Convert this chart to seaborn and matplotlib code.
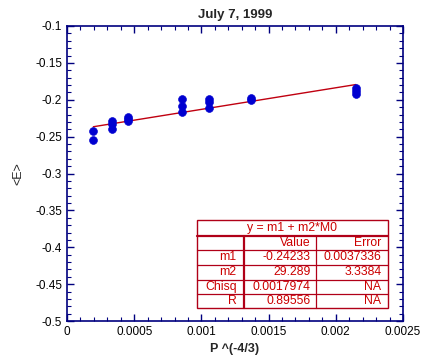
import matplotlib
matplotlib.use("Agg")
import matplotlib.pyplot as plt
import seaborn as sns
import numpy as np
import pandas as pd
from matplotlib.ticker import MultipleLocator, FuncFormatter

# Data
x_vals = [0.000196, 0.000196,
          0.000337, 0.000337, 0.000337,
          0.000456, 0.000456, 0.000456,
          0.000853, 0.000853, 0.000853,
          0.001059, 0.001059, 0.001059,
          0.001369, 0.001369,
          0.00215, 0.00215, 0.00215]
y_vals = [-0.2418, -0.2548,
          -0.2283, -0.2328, -0.2395,
          -0.2238, -0.2265, -0.2292,
          -0.1987, -0.2090, -0.2166,
          -0.1987, -0.2036, -0.2117,
          -0.1970, -0.2000,
          -0.1838, -0.1883, -0.1923]

fit_m1 = -0.24233
fit_m2 = 29.289
table_header = "y = m1 + m2*M0"
table_cols = ["", "Value", "Error"]
table_rows = [["m1", "-0.24233", "0.0037336"],
              ["m2", "29.289", "3.3384"],
              ["Chisq", "0.0017974", "NA"],
              ["R", "0.89556", "NA"]]
x_ticks = [0, 0.0005, 0.001, 0.0015, 0.002, 0.0025]
y_ticks = [-0.5, -0.45, -0.4, -0.35, -0.3, -0.25, -0.2, -0.15, -0.1]

sns.set_theme(style="white")
plt.rcParams['font.family'] = ['Liberation Sans', 'DejaVu Sans']

df = pd.DataFrame({"x": x_vals, "y": y_vals})
fx = np.array([min(x_vals), max(x_vals)])
fit_df = pd.DataFrame({"x": fx, "y": fit_m1 + fit_m2 * fx})

fig = plt.figure(figsize=(4.3, 3.63), dpi=100)
ax = fig.add_axes([67/430, 42/363, 336/430, 295/363])

navy = "#00007f"
red = "#cc0000"
dred = "#b00018"

sns.lineplot(data=fit_df, x="x", y="y", ax=ax, color="#c00010", linewidth=1.0)
sns.scatterplot(data=df, x="x", y="y", ax=ax, color="#0000d0", edgecolor="#0000d0",
                s=32, zorder=3)

ax.set_xlim(0, 0.0025)
ax.set_ylim(-0.5, -0.1)
ax.set_xticks(x_ticks)
ax.set_yticks(y_ticks)
ax.xaxis.set_minor_locator(MultipleLocator(0.0001))
ax.yaxis.set_minor_locator(MultipleLocator(0.01))

def fmt(v, pos):
    s = ("%.4f" % v).rstrip("0").rstrip(".")
    if s in ("-0", ""):
        s = "0"
    return s

ax.xaxis.set_major_formatter(FuncFormatter(fmt))
ax.yaxis.set_major_formatter(FuncFormatter(fmt))

for sp in ax.spines.values():
    sp.set_color(navy)
    sp.set_linewidth(1.2)
    sp.set_visible(True)

ax.tick_params(which="both", direction="in", top=True, right=True, bottom=True, left=True,
               color=navy, labelsize=8.5, labelcolor="black")
ax.tick_params(which="major", length=5, width=1)
ax.tick_params(which="minor", length=3, width=0.8)

ax.set_title("July 7, 1999", fontsize=9.5, fontweight="bold", pad=6)
ax.set_xlabel("P ^(-4/3)", fontsize=9, fontweight="bold", labelpad=4)
ax.set_ylabel("<E>", fontsize=9, labelpad=8)

# Fit results table (axes fraction coordinates)
xl, xc1, xc2, xr = 0.386, 0.527, 0.740, 0.956
ys = [0.342, 0.289, 0.241, 0.190, 0.139, 0.091, 0.044]
tr = ax.transAxes
ax.add_patch(plt.Rectangle((xl, ys[-1]), xr - xl, ys[0] - ys[-1], transform=tr,
                           facecolor="white", edgecolor=dred, linewidth=1.0, zorder=4))
for i, yy in enumerate(ys[1:-1]):
    lw = 1.6 if i == 0 else 0.9
    ax.plot([xl, xr], [yy, yy], transform=tr, color=dred, linewidth=lw, zorder=5)
ax.plot([xc1, xc1], [ys[-1], ys[1]], transform=tr, color=dred, linewidth=1.6, zorder=5)
ax.plot([xc2, xc2], [ys[-1], ys[1]], transform=tr, color=dred, linewidth=0.9, zorder=5)

fs = 8.8
ax.text((xl + xr) / 2, (ys[0] + ys[1]) / 2, table_header, transform=tr, ha="center",
        va="center", color=red, fontsize=fs, zorder=6)
rows = [table_cols] + table_rows
for r, row in enumerate(rows):
    yc = (ys[r + 1] + ys[r + 2]) / 2
    if row[0]:
        ax.text(xc1 - 0.022, yc, row[0], transform=tr, ha="right", va="center",
                color=red, fontsize=fs, zorder=6)
    ax.text(xc2 - 0.015, yc, row[1], transform=tr, ha="right", va="center",
            color=red, fontsize=fs, zorder=6)
    ax.text(xr - 0.02, yc, row[2], transform=tr, ha="right", va="center",
            color=red, fontsize=fs, zorder=6)

fig.savefig("out.png", dpi=100)
